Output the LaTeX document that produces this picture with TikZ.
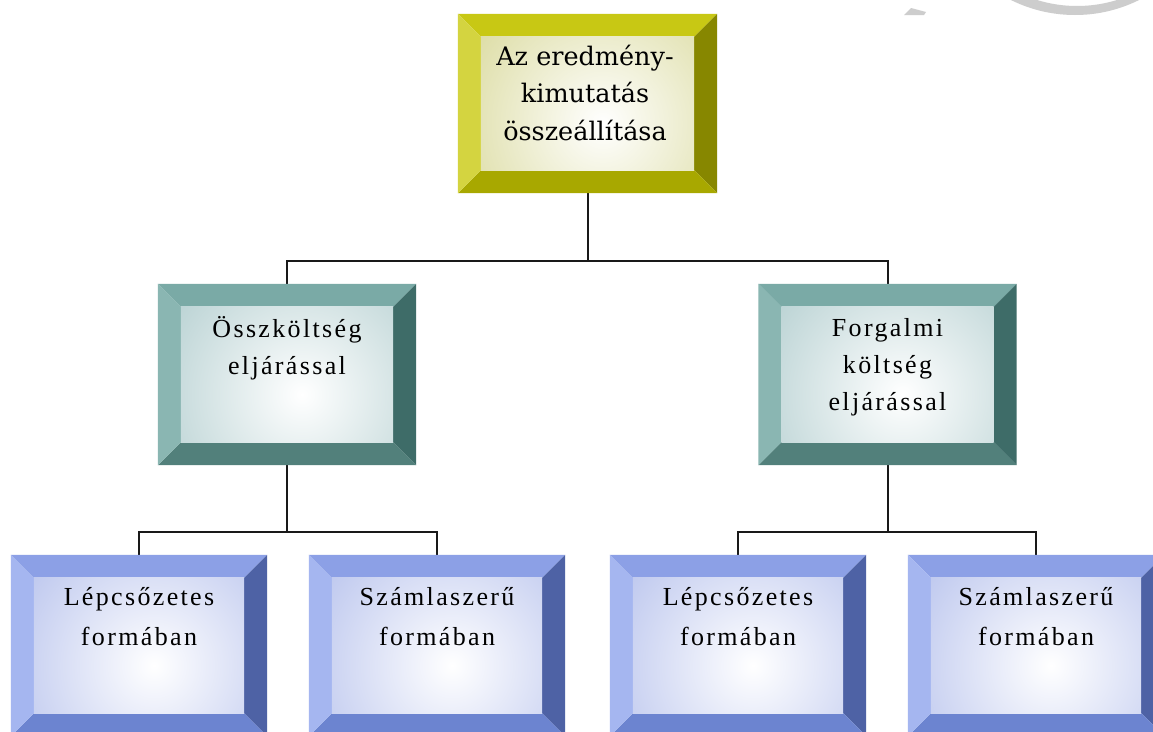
\documentclass[tikz,border=0pt]{standalone}
\usepackage{fontspec}
\setmainfont{Liberation Serif}
\newfontfamily\topfont{DejaVu Serif}
\newfontfamily\boxfont[LetterSpace=9]{Liberation Serif}
\usetikzlibrary{calc}
\definecolor{Ytop}{RGB}{200,200,20}
\definecolor{Yleft}{RGB}{212,212,64}
\definecolor{Yright}{RGB}{135,135,0}
\definecolor{Ybot}{RGB}{168,168,0}
\definecolor{Yface}{RGB}{200,200,110}
\definecolor{Ttop}{RGB}{122,170,166}
\definecolor{Tleft}{RGB}{138,182,178}
\definecolor{Tright}{RGB}{62,108,104}
\definecolor{Tbot}{RGB}{82,128,123}
\definecolor{Tface}{RGB}{145,184,186}
\definecolor{Btop}{RGB}{140,160,230}
\definecolor{Bleft}{RGB}{165,182,240}
\definecolor{Bright}{RGB}{78,98,165}
\definecolor{Bbot}{RGB}{108,132,208}
\definecolor{Bface}{RGB}{150,166,228}
\definecolor{wm}{RGB}{205,205,205}
\newcommand{\bw}{23}
\newcommand{\bevel}[2]{%
  \fill[#2top] (#1.north west) -- (#1.north east) -- ($(#1.north east)+(-\bw,\bw)$) -- ($(#1.north west)+(\bw,\bw)$) -- cycle;
  \fill[#2right] (#1.north east) -- (#1.south east) -- ($(#1.south east)+(-\bw,-\bw)$) -- ($(#1.north east)+(-\bw,\bw)$) -- cycle;
  \fill[#2bot] (#1.south east) -- (#1.south west) -- ($(#1.south west)+(\bw,-\bw)$) -- ($(#1.south east)+(-\bw,-\bw)$) -- cycle;
  \fill[#2left] (#1.south west) -- (#1.north west) -- ($(#1.north west)+(\bw,\bw)$) -- ($(#1.south west)+(\bw,-\bw)$) -- cycle;
  \begin{scope}
    \clip ($(#1.north west)+(\bw,\bw)$) rectangle ($(#1.south east)+(-\bw,-\bw)$);
    \shade[inner color=white, outer color=#2face] ($(#1.center)+(15,20)$) circle (250);
  \end{scope}
}
\tikzset{
  boxnode/.style={rectangle, inner sep=0pt, draw=none, minimum width=258pt, minimum height=181pt},
  lownode/.style={rectangle, inner sep=0pt, draw=none, minimum width=256pt, minimum height=181pt},
  txt/.style={anchor=base, inner sep=0pt},
  conn/.style={draw=black!90, line width=2pt}
}
\begin{document}
\begin{tikzpicture}[x=1pt,y=-1pt]
\useasboundingbox (0,0) rectangle (1153,731);
\begin{scope}
\clip (0,0) rectangle (1153,731);
\fill[white] (0,0) rectangle (1153,731);
% watermark remnants
\fill[wm, even odd rule] (1075,-129) circle (144) (1077,-129) circle (135);
\fill[wm] (904,15) -- (911,8) -- (926,12) -- (924,15) -- cycle;

% boxes
\node[boxnode, minimum width=259pt, minimum height=179pt] (top) at (587.5,103.5) {};
\node[boxnode] (ml) at (287,374.5) {};
\node[boxnode] (mr) at (887.5,374.5) {};
\node[lownode] (b1) at (139,645.5) {};
\node[lownode] (b2) at (437,645.5) {};
\node[lownode] (b3) at (738,645.5) {};
\node[lownode] (b4) at (1036,645.5) {};

% connectors
\coordinate (bus1) at (587.5,261);
\coordinate (bus2) at (287,532);
\coordinate (bus3) at (887.5,532);
\draw[conn] (top.south) -- (bus1);
\draw[conn] (ml.north) -- (ml.north |- bus1) -- (mr.north |- bus1) -- (mr.north);
\draw[conn] (ml.south) -- (bus2);
\draw[conn] (b1.north) -- (b1.north |- bus2) -- (b2.north |- bus2) -- (b2.north);
\draw[conn] (mr.south) -- (bus3);
\draw[conn] (b3.north) -- (b3.north |- bus3) -- (b4.north |- bus3) -- (b4.north);

\bevel{top}{Y}
\bevel{ml}{T}
\bevel{mr}{T}
\bevel{b1}{B}
\bevel{b2}{B}
\bevel{b3}{B}
\bevel{b4}{B}

% texts
\node[txt] (ttop) at (585,65) {\parbox[t]{250pt}{\topfont\fontsize{25.5}{37.5}\selectfont\centering Az eredmény-\\kimutatás\\összeállítása}};
\node[txt] (tml) at (287,337) {\parbox[t]{240pt}{\boxfont\fontsize{26}{37.5}\selectfont\centering Összköltség\\eljárással}};
\node[txt] (tmr) at (887.5,336) {\parbox[t]{240pt}{\boxfont\fontsize{26}{37}\selectfont\centering Forgalmi\\költség\\eljárással}};
\node[txt] (tb1) at (139,605) {\parbox[t]{240pt}{\boxfont\fontsize{26}{40}\selectfont\centering Lépcsőzetes\\formában}};
\node[txt] (tb2) at (437,605) {\parbox[t]{240pt}{\boxfont\fontsize{26}{40}\selectfont\centering Számlaszerű\\formában}};
\node[txt] (tb3) at (738,605) {\parbox[t]{240pt}{\boxfont\fontsize{26}{40}\selectfont\centering Lépcsőzetes\\formában}};
\node[txt] (tb4) at (1036,605) {\parbox[t]{240pt}{\boxfont\fontsize{26}{40}\selectfont\centering Számlaszerű\\formában}};
\end{scope}
\end{tikzpicture}
\end{document}
